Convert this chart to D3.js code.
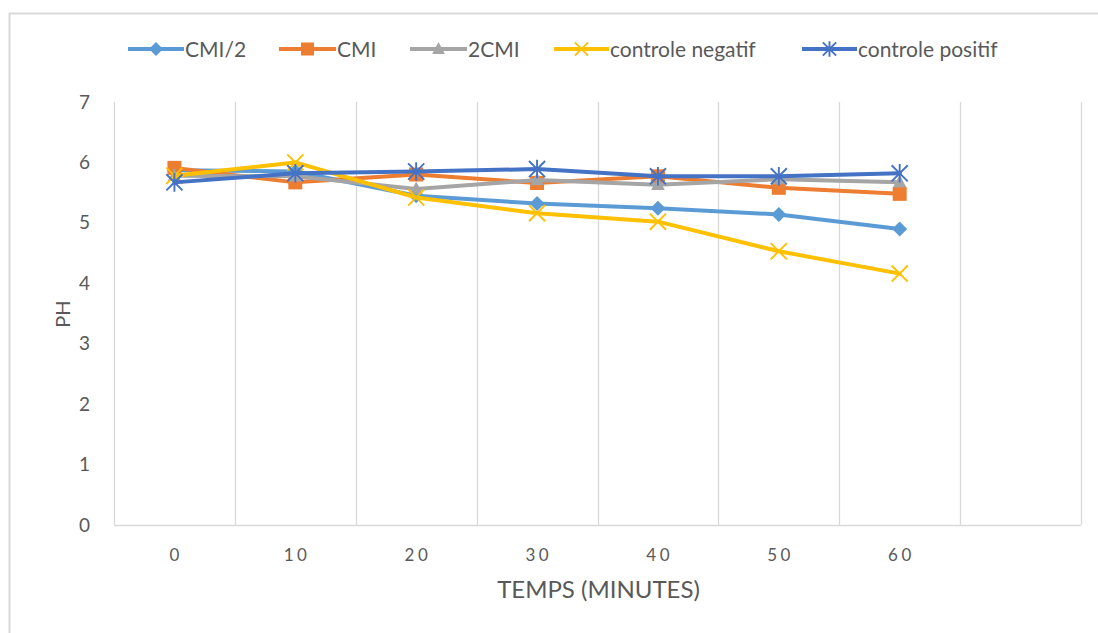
<!DOCTYPE html>
<html>
<head>
<meta charset="utf-8">
<script src="https://cdn.jsdelivr.net/npm/d3@7"></script>
<style>
  html, body { margin: 0; padding: 0; background: #fff; }
  svg { display: block; }
  text { font-family: Lato, Carlito, "Open Sans", sans-serif; fill: #595959; }
</style>
</head>
<body>
<svg id="chart" width="1098" height="633"></svg>
<script>
// Time points (minutes); the trailing blank slot leaves an empty column on the right
const categories = ["0", "10", "20", "30", "40", "50", "60", ""];
const yTicks = [0, 1, 2, 3, 4, 5, 6, 7];

const seriesNames = ["CMI/2", "CMI", "2CMI", "controle negatif", "controle positif"];
const cmiHalf      = [5.87, 5.85, 5.45, 5.32, 5.24, 5.14, 4.90];
const cmi          = [5.91, 5.67, 5.80, 5.66, 5.77, 5.58, 5.48];
const cmiDouble    = [5.78, 5.77, 5.56, 5.71, 5.63, 5.72, 5.67];
const ctrlNegatif  = [5.78, 6.00, 5.42, 5.16, 5.02, 4.53, 4.16];
const ctrlPositif  = [5.67, 5.82, 5.85, 5.89, 5.77, 5.77, 5.82];

const colors  = ["#5B9BD5", "#ED7D31", "#A5A5A5", "#FFC000", "#4472C4"];
const markers = ["diamond", "square", "triangle", "cross", "asterisk"];

const series = [cmiHalf, cmi, cmiDouble, ctrlNegatif, ctrlPositif].map((vals, i) => ({
  name: seriesNames[i], color: colors[i], marker: markers[i],
  values: vals.map((v, j) => ({ cat: categories[j], v }))
}));

const svg = d3.select("#chart");
const plot = { left: 114, right: 1081, top: 102, bottom: 525 };

const x = d3.scaleBand().domain(categories).range([plot.left, plot.right]).paddingInner(0).paddingOuter(0);
const y = d3.scaleLinear().domain([0, 7]).range([plot.bottom, plot.top]);
const cx = c => x(c) + x.bandwidth() / 2;

// Outer frame (top and left edges)
svg.append("path")
  .attr("d", `M9.5,633 L9.5,13.5 L1098,13.5`)
  .attr("fill", "none").attr("stroke", "#d9d9d9").attr("stroke-width", 2);

// Vertical gridlines at category boundaries
const bounds = categories.map(c => x(c)).concat([plot.right]);
svg.append("g").selectAll("line").data(bounds.slice(1)).join("line")
  .attr("x1", d => Math.round(d) + 0.5).attr("x2", d => Math.round(d) + 0.5)
  .attr("y1", plot.top).attr("y2", plot.bottom)
  .attr("stroke", "#d9d9d9").attr("stroke-width", 1.3);

// Value axis line and category axis line
svg.append("line")
  .attr("x1", plot.left + 0.5).attr("x2", plot.left + 0.5)
  .attr("y1", plot.top).attr("y2", plot.bottom)
  .attr("stroke", "#d9d9d9").attr("stroke-width", 1.3);
svg.append("line")
  .attr("x1", plot.left).attr("x2", plot.right)
  .attr("y1", plot.bottom + 0.5).attr("y2", plot.bottom + 0.5)
  .attr("stroke", "#d9d9d9").attr("stroke-width", 1.3);

// Y tick labels
const yAxis = d3.axisLeft(y).tickValues(yTicks).tickSize(0).tickPadding(24).tickFormat(d3.format("d"));
const gy = svg.append("g").attr("transform", `translate(${plot.left},0)`).call(yAxis);
gy.select(".domain").remove();
gy.selectAll("text").style("font-size", "19px").style("fill", "#595959")
  .style("font-family", "Lato, Carlito, sans-serif");

// X tick labels
const xAxis = d3.axisBottom(x).tickSize(0).tickPadding(24);
const gx = svg.append("g").attr("transform", `translate(0,${plot.bottom})`).call(xAxis);
gx.select(".domain").remove();
gx.selectAll("text").style("font-size", "17px").style("letter-spacing", "3.5px")
  .style("fill", "#595959").style("font-family", "Lato, Carlito, sans-serif")
  .attr("dx", "1.75px");

// Axis titles
svg.append("text").attr("x", (plot.left + plot.right) / 2 + 1).attr("y", 598)
  .attr("text-anchor", "middle").style("font-size", "24px").text("TEMPS (MINUTES)");
svg.append("text").attr("transform", `translate(70,314) rotate(-90)`)
  .attr("text-anchor", "middle").style("font-size", "20px").text("PH");

// Marker drawing
function drawMarker(g, type, color, size) {
  const s = size / 2;
  if (type === "diamond") {
    g.append("path").attr("d", `M0,${-s} L${s},0 L0,${s} L${-s},0 Z`).attr("fill", color);
  } else if (type === "square") {
    g.append("rect").attr("x", -s + 0.5).attr("y", -s + 0.5).attr("width", size - 1).attr("height", size - 1)
      .attr("fill", color);
  } else if (type === "triangle") {
    g.append("path").attr("d", `M0,${-s} L${s * 0.9},${s * 0.7} L${-s * 0.9},${s * 0.7} Z`).attr("fill", color);
  } else if (type === "cross") {
    const r = s * 0.95;
    g.append("path").attr("d", `M${-r},${-r} L${r},${r} M${-r},${r} L${r},${-r}`)
      .attr("stroke", color).attr("stroke-width", 1.9).attr("fill", "none");
  } else if (type === "asterisk") {
    const r = s * 0.95;
    g.append("path").attr("d", `M${-r},${-r} L${r},${r} M${-r},${r} L${r},${-r} M0,${-r * 1.15} L0,${r * 1.15}`)
      .attr("stroke", color).attr("stroke-width", 1.9).attr("fill", "none");
  }
}

const line = d3.line().x(d => cx(d.cat)).y(d => y(d.v));

// Lines and markers, drawn series by series so later ones sit on top
series.forEach(s => {
  const g = svg.append("g");
  g.append("path").datum(s.values).attr("d", line)
    .attr("fill", "none").attr("stroke", s.color).attr("stroke-width", 4)
    .attr("stroke-linejoin", "round").attr("stroke-linecap", "round");
  s.values.forEach(d => {
    const m = g.append("g").attr("transform", `translate(${cx(d.cat)},${y(d.v)})`);
    drawMarker(m, s.marker, s.color, s.marker === "cross" || s.marker === "asterisk" ? 17 : 15);
  });
});

// Legend
const legendItems = [
  { x: 128, w: 56 }, { x: 279, w: 57 }, { x: 410, w: 57 }, { x: 554, w: 55 }, { x: 802, w: 55 }
];
series.forEach((s, i) => {
  const li = legendItems[i];
  const g = svg.append("g").attr("transform", `translate(${li.x},49)`);
  g.append("line").attr("x1", 0).attr("x2", li.w).attr("y1", 0).attr("y2", 0)
    .attr("stroke", s.color).attr("stroke-width", 4);
  const m = g.append("g").attr("transform", `translate(${li.w / 2},0)`);
  drawMarker(m, s.marker, s.color, 14);
  g.append("text").attr("x", li.w + 1).attr("y", 7.5).style("font-size", "21px").text(s.name);
});
</script>
</body>
</html>
